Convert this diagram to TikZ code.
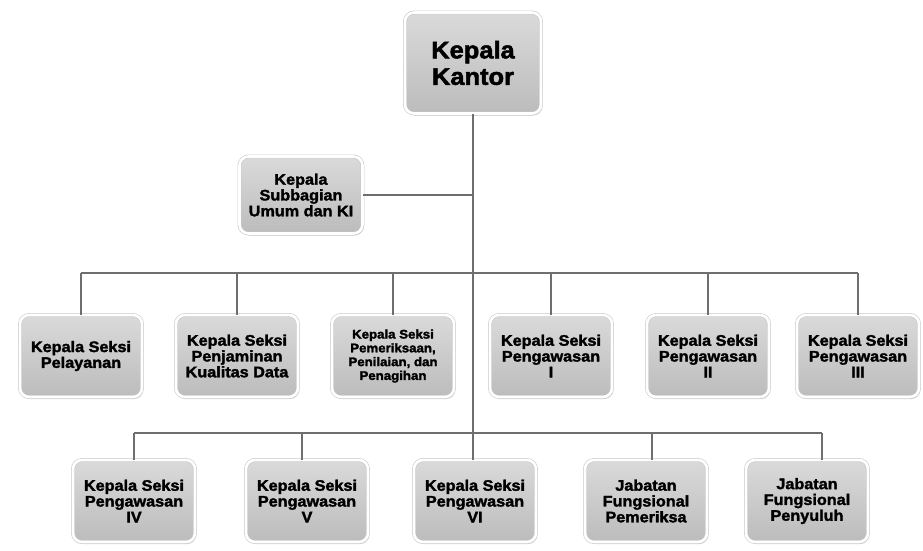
\documentclass[tikz,border=0pt]{standalone}
\usepackage{fontspec}
\setmainfont{Liberation Sans}[BoldFeatures={FakeBold=2, FakeStretch=1.06}]
\usetikzlibrary{shadows}
\definecolor{boxtop}{RGB}{218,218,218}
\definecolor{boxbot}{RGB}{188,188,188}
\definecolor{conn}{RGB}{110,110,110}
\definecolor{rim}{RGB}{200,200,200}
\tikzset{
  orgbox/.style={rectangle, rounded corners=9pt, top color=boxtop, bottom color=boxbot,
    draw=rim, double=white, double distance=2.6pt, line width=0.6pt,
    drop shadow={opacity=0.35, shadow xshift=1.2pt, shadow yshift=-2pt},
    align=center, font=\bfseries\fontsize{15.3}{15.8}\selectfont,
    minimum width=122pt, minimum height=82pt, inner sep=1pt},
  smalltext/.style={font=\bfseries\fontsize{12.5}{13.8}\selectfont},
  bigbox/.style={orgbox, minimum width=136pt, minimum height=101pt, font=\bfseries\fontsize{24}{26.5}\selectfont},
  subbox/.style={orgbox, minimum width=123pt, minimum height=77pt},
  link/.style={draw=conn, line width=1.4pt}
}
\begin{document}
\begin{tikzpicture}[x=1pt,y=-1pt]
\useasboundingbox (0,0) rectangle (923,550);
\fill[white] (0,0) rectangle (923,550);
% nodes
\node[bigbox] (kk) at (473,63) {Kepala\\Kantor};
\node[subbox] (sub) at (301,195) {Kepala\\Subbagian\\Umum dan KI};
\coordinate (bus1) at (473,273);
\coordinate (bus2) at (473,433);
\node[orgbox] (pel) at (81,356) {Kepala Seksi\\Pelayanan};
\node[orgbox] (pkd) at (237,356) {Kepala Seksi\\Penjaminan\\Kualitas Data};
\node[orgbox, smalltext] (ppp) at (393,356) {Kepala Seksi\\Pemeriksaan,\\Penilaian, dan\\Penagihan};
\node[orgbox] (pw1) at (551,356) {Kepala Seksi\\Pengawasan\\I};
\node[orgbox] (pw2) at (708,356) {Kepala Seksi\\Pengawasan\\II};
\node[orgbox] (pw3) at (858,356) {Kepala Seksi\\Pengawasan\\III};
\node[orgbox] (pw4) at (134,501) {Kepala Seksi\\Pengawasan\\IV};
\node[orgbox] (pw5) at (307,501) {Kepala Seksi\\Pengawasan\\V};
\node[orgbox] (pw6) at (475,501) {Kepala Seksi\\Pengawasan\\VI};
\node[orgbox] (jfp) at (646,501) {Jabatan\\Fungsional\\Pemeriksa};
\node[orgbox] (jfy) at (807,501) {Jabatan\\Fungsional\\Penyuluh};
% connection points on the boxes
\coordinate (c5) at ([xshift=-5pt]pw5.north);
\coordinate (cp) at ([xshift=6pt]jfp.north);
\coordinate (cy) at ([xshift=15pt]jfy.north);
% connectors
\draw[link] (kk.south) -- (kk.south |- pw6.north);
\draw[link] (sub.east) -- (sub.east -| kk.south);
\draw[link] (pel.north |- bus1) -- (pw3.north |- bus1);
\foreach \n in {pel,pkd,ppp,pw1,pw2,pw3} \draw[link] (\n.north) -- (\n.north |- bus1);
\draw[link] (pw4.north |- bus2) -- (cy |- bus2);
\foreach \n in {pw4.north,c5,cp,cy} \draw[link] (\n) -- (\n |- bus2);
\end{tikzpicture}
\end{document}
